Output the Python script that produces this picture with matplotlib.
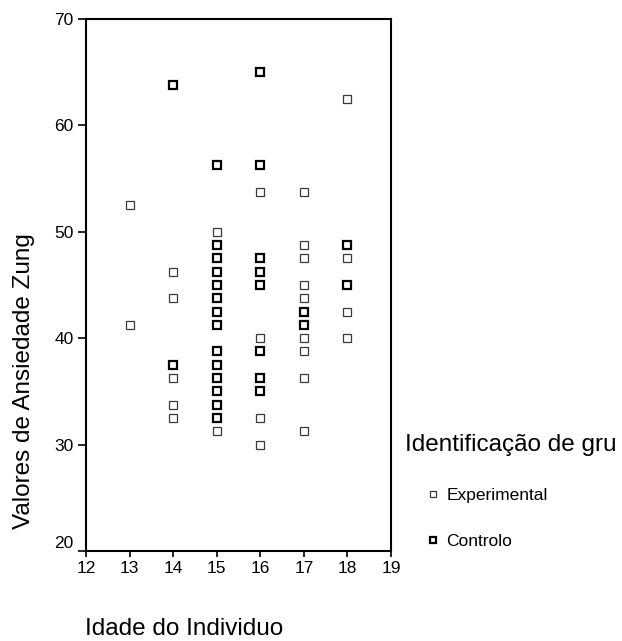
import matplotlib
matplotlib.use('Agg')
import matplotlib.pyplot as plt

plt.rcParams['font.family'] = ['Liberation Sans', 'DejaVu Sans']

# Experimental group (age, Zung anxiety score)
exp_age = [13, 13,
           14, 14, 14, 14, 14,
           15, 15,
           16, 16, 16, 16,
           17, 17, 17, 17, 17, 17, 17, 17, 17,
           18, 18, 18, 18]
exp_zung = [52.5, 41.25,
            46.25, 43.75, 36.25, 33.75, 32.5,
            50.0, 31.25,
            53.75, 40.0, 32.5, 30.0,
            53.75, 48.75, 47.5, 45.0, 43.75, 40.0, 38.75, 36.25, 31.25,
            62.5, 47.5, 42.5, 40.0]

# Controlo group
ctl_age = [14, 14,
           15, 15, 15, 15, 15, 15, 15, 15, 15, 15, 15, 15, 15, 15,
           16, 16, 16, 16, 16, 16, 16, 16,
           17, 17,
           18, 18]
ctl_zung = [63.75, 37.5,
            56.25, 48.75, 47.5, 46.25, 45.0, 43.75, 42.5, 41.25, 38.75, 37.5, 36.25, 35.0, 33.75, 32.5,
            65.0, 56.25, 47.5, 46.25, 45.0, 38.75, 36.25, 35.0,
            42.5, 41.25,
            48.75, 45.0]

x_ticks = [12, 13, 14, 15, 16, 17, 18, 19]
y_ticks = [20, 30, 40, 50, 60, 70]
group_labels = ['Experimental', 'Controlo']

W, H = 622, 641
fig = plt.figure(figsize=(W / 100, H / 100), dpi=100)
ax = fig.add_axes([86 / W, 1 - 551 / H, 305 / W, 532 / H])

h1, = ax.plot(exp_age, exp_zung, ls='none', marker='s', ms=5.5, mfc='white',
              mec='#3a3a3a', mew=0.9, label=group_labels[0], clip_on=False)
h2, = ax.plot(ctl_age, ctl_zung, ls='none', marker='s', ms=5.5, mfc='white',
              mec='black', mew=1.6, label=group_labels[1], clip_on=False)

ax.set_xlim(12, 19)
ax.set_ylim(20, 70)
ax.set_xticks(x_ticks)
ax.set_yticks(y_ticks)
ax.tick_params(direction='out', labelsize=12.5, width=1.2, color='black', pad=3)
ax.tick_params(axis='x', length=4)
ax.tick_params(axis='y', length=6)
ax.get_yticklabels()[0].set_va('bottom')
for s in ax.spines.values():
    s.set_linewidth(1.5)

fig.text(85 / W, 1 - 629 / H, 'Idade do Individuo', fontsize=17.5,
         ha='left', va='center')
fig.text(24 / W, 1 - 381 / H, 'Valores de Ansiedade Zung', rotation=90,
         fontsize=17.5, ha='center', va='center')
fig.text(405 / W, 1 - 445 / H, 'Identificação de gru', fontsize=17.5,
         ha='left', va='center')

fig.legend([h1, h2], group_labels, loc='upper left',
           bbox_to_anchor=(424 / W, 1 - 488 / H), frameon=False, fontsize=12.5,
           handlelength=1, handletextpad=0.3, labelspacing=1.75, borderpad=0,
           borderaxespad=0, numpoints=1, markerscale=0.85)

fig.savefig('out.png', dpi=100)
